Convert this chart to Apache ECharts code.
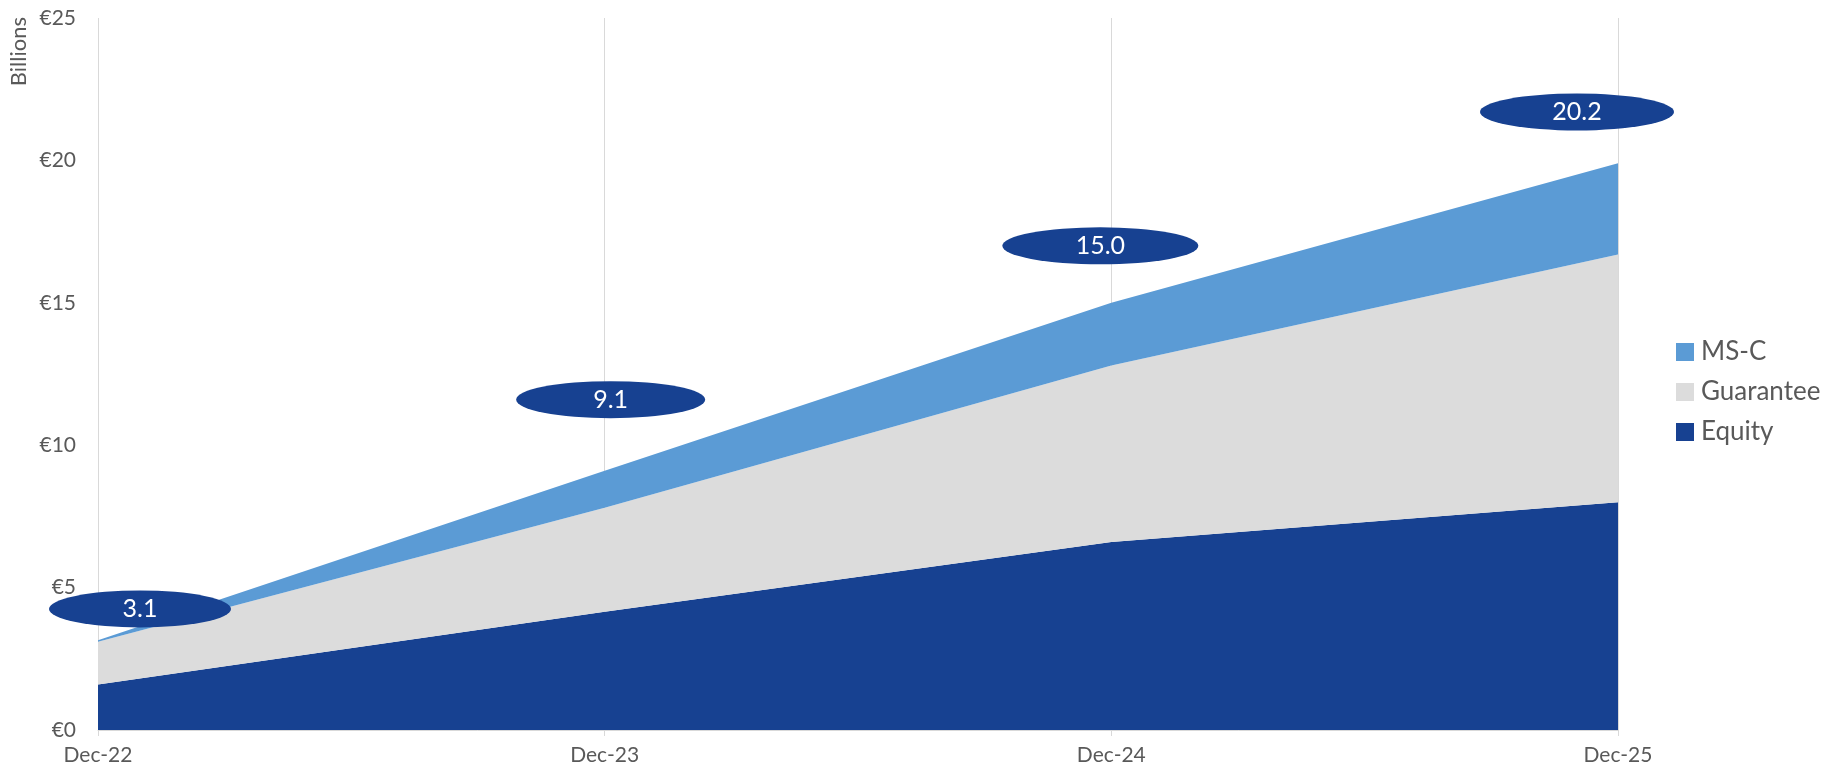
<!DOCTYPE html>
<html>
<head>
<meta charset="utf-8">
<script src="https://cdn.jsdelivr.net/npm/echarts@6/dist/echarts.min.js"></script>
<style>
html,body{margin:0;padding:0;background:#fff;}
#c{width:1841px;height:773px;}
</style>
</head>
<body>
<div id="c"></div>
<script>
const categories = ['Dec-22', 'Dec-23', 'Dec-24', 'Dec-25'];
const equity = [1.6, 4.15, 6.6, 8.0];
const guarantee = [1.5, 3.65, 6.2, 8.7];
const msc = [0.05, 1.3, 2.2, 3.2];
const totalLabels = ['3.1', '9.1', '15.0', '20.2'];
const labelHeights = [4.25, 11.6, 17.0, 21.7];
const yTicks = [0, 5, 10, 15, 20, 25];

const FONT = 'Lato, "Open Sans", sans-serif';
const chart = echarts.init(document.getElementById('c'), null, {renderer: 'canvas'});

const labelOffsets = [[42, 0], [6, 0], [-11, 0], [-41, 0]];
const ellipseWidths = [182, 189, 196, 194];

const option = {
  backgroundColor: '#ffffff',
  animation: false,
  grid: {left: 98, right: 223, top: 18, bottom: 43, containLabel: false},
  legend: {
    data: ['MS-C', 'Guarantee', 'Equity'],
    orient: 'vertical',
    left: 1671,
    top: 334,
    itemWidth: 18,
    itemHeight: 18,
    itemGap: 14,
    icon: 'rect',
    textStyle: {fontFamily: FONT, fontSize: 26, color: '#595959', padding: [0, 0, 0, 2]}
  },
  graphic: [{
    type: 'text',
    left: 8,
    top: 17,
    rotation: Math.PI / 2,
    style: {text: 'Billions', font: '22px ' + FONT, fill: '#595959'}
  }],
  xAxis: {
    type: 'category',
    data: categories,
    boundaryGap: false,
    axisLine: {show: true, lineStyle: {color: '#d9d9d9', width: 1}},
    axisTick: {show: true, alignWithLabel: true, length: 6, lineStyle: {color: '#d9d9d9'}},
    splitLine: {show: true, lineStyle: {color: '#d9d9d9', width: 1}},
    axisLabel: {fontFamily: FONT, fontSize: 21, color: '#595959', margin: 15}
  },
  yAxis: {
    type: 'value',
    min: 0,
    max: 25,
    interval: 5,
    axisLine: {show: false},
    axisTick: {show: false},
    splitLine: {show: false},
    axisLabel: {
      fontFamily: FONT, fontSize: 21, color: '#595959', margin: 22,
      formatter: v => yTicks.includes(v) ? '€' + v : ''
    }
  },
  series: [
    {
      name: 'Equity', type: 'line', stack: 'total', data: equity,
      symbol: 'none', lineStyle: {width: 0}, itemStyle: {color: '#174191'},
      areaStyle: {color: '#174191', opacity: 1}, z: 2
    },
    {
      name: 'Guarantee', type: 'line', stack: 'total', data: guarantee,
      symbol: 'none', lineStyle: {width: 0}, itemStyle: {color: '#dcdcdc'},
      areaStyle: {color: '#dcdcdc', opacity: 1}, z: 2
    },
    {
      name: 'MS-C', type: 'line', stack: 'total', data: msc,
      symbol: 'none', lineStyle: {width: 0}, itemStyle: {color: '#5b9bd5'},
      areaStyle: {color: '#5b9bd5', opacity: 1}, z: 2
    },
    {
      name: 'Totals', type: 'scatter',
      data: categories.map((c, i) => ({
        value: [c, labelHeights[i]],
        symbolOffset: labelOffsets[i],
        symbolSize: [ellipseWidths[i], 37],
        label: {
          show: true, position: 'inside', formatter: totalLabels[i],
          color: '#ffffff', fontFamily: FONT, fontSize: 25
        }
      })),
      symbol: 'circle',
      itemStyle: {color: '#174191', opacity: 1},
      z: 5,
      silent: true
    }
  ]
};
chart.setOption(option);
</script>
</body>
</html>
